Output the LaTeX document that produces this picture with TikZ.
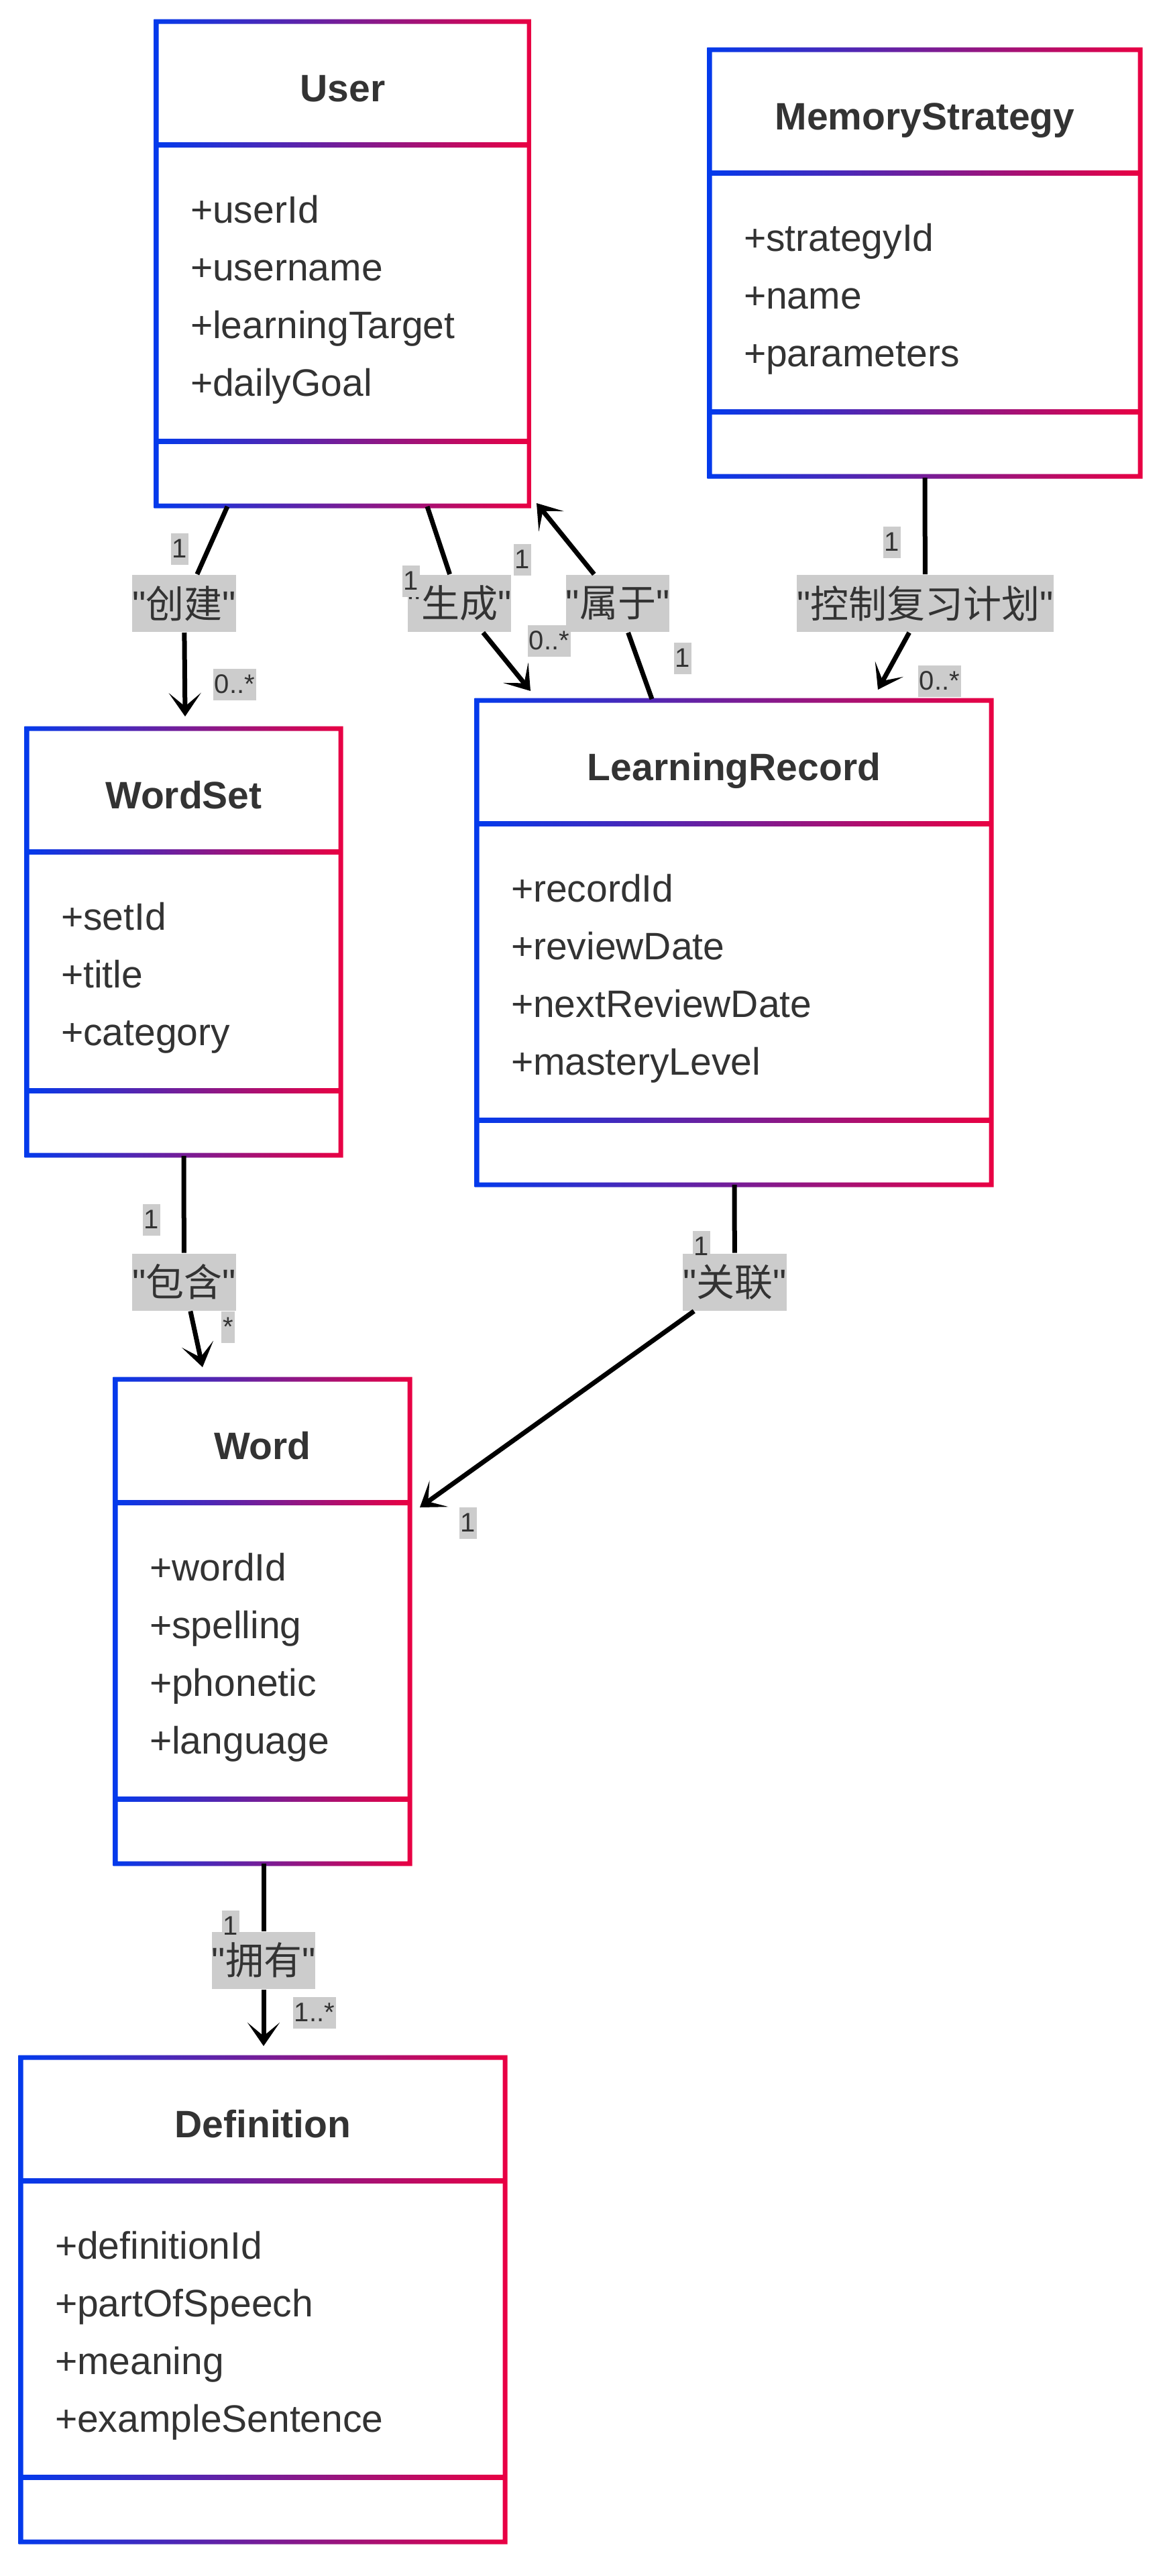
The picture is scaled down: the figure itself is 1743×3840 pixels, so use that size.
\documentclass[tikz,border=0pt]{standalone}
\usepackage{fontspec}
\setmainfont{Liberation Sans}
\newfontfamily\cjk{Noto Sans CJK SC}
\usetikzlibrary{arrows.meta}

\definecolor{azul}{RGB}{3,58,236}
\definecolor{rojo}{RGB}{233,0,67}
\definecolor{gris}{RGB}{204,204,204}
\definecolor{texto}{RGB}{51,51,51}

\newcommand{\rel}[1]{\textquotedbl{\cjk #1}\textquotedbl}

\tikzset{
  etiqueta/.style={fill=gris, text=texto, inner sep=0pt, minimum height=17pt,
    font=\fontsize{11.4}{13}\selectfont},
  mult/.style={fill=gris, text=texto, inner xsep=0.4pt, inner ysep=0pt,
    minimum height=9.4pt, font=\fontsize{8}{9}\selectfont},
  linea/.style={line width=1.4pt, black},
  flecha/.style={linea, -{Stealth[length=7pt,width=9.6pt,inset=4pt]}},
  titulo/.style={text=texto, inner sep=0pt, anchor=base, font=\bfseries\fontsize{11.4}{13}\selectfont},
  atributo/.style={text=texto, inner sep=0pt, anchor=base west, font=\fontsize{11.4}{13}\selectfont},
}

% clase: nombre, x, y, ancho, n, titulo, atributos
\newcommand{\clase}[7]{%
  \pgfmathsetmacro{\xder}{#2+#4}%
  \pgfmathsetmacro{\ycab}{#3+184}%
  \pgfmathsetmacro{\yatr}{#3+368+(#5-1)*86}%
  \pgfmathsetmacro{\ypie}{\yatr+96}%
  \shade[left color=azul, right color=rojo, even odd rule]
    (#2-3.5,#3-3.5) rectangle (\xder+3.5,\ypie+3.5)
    (#2+3.5,#3+3.5) rectangle (\xder-3.5,\ypie-3.5);
  \shade[left color=azul, right color=rojo] (#2,\ycab-3.5) rectangle (\xder,\ycab+3.5);
  \shade[left color=azul, right color=rojo] (#2,\yatr-3.5) rectangle (\xder,\yatr+3.5);
  \node[titulo] (#1) at ({(#2+\xder)/2},{#3+119}) {#6};
  \foreach \atr [count=\i] in {#7}
    \node[atributo] (#1-\i) at ({#2+50},{\ycab+116+(\i-1)*86}) {\atr};
}

\begin{document}
\begin{tikzpicture}[x=0.2pt,y=-0.2pt]
  \fill[white] (0,0) rectangle (1743,3840);
  \useasboundingbox (0,0) rectangle (1743,3840);
  % clases
  \clase{user}{233}{32}{556}{4}{User}{+userId,+username,+learningTarget,+dailyGoal}
  \clase{memoria}{1058}{74}{642}{3}{MemoryStrategy}{+strategyId,+name,+parameters}
  \clase{wordset}{40}{1086}{468}{3}{WordSet}{+setId,+title,+category}
  \clase{registro}{711}{1044}{767}{4}{LearningRecord}{+recordId,+reviewDate,+nextReviewDate,+masteryLevel}
  \clase{word}{172}{2056}{439}{4}{Word}{+wordId,+spelling,+phonetic,+language}
  \clase{definicion}{31}{3067}{722}{4}{Definition}{+definitionId,+partOfSpeech,+meaning,+exampleSentence}

  % etiquetas de las relaciones
  \node[etiqueta] (crea) at (274.5,899.5) {\rel{创建}};
  \node[etiqueta] (genera) at (685,899.5) {\rel{生成}};
  \node[etiqueta] (pertenece) at (921,899.5) {\rel{属于}};
  \node[etiqueta] (controla) at (1379.5,899.5) {\rel{控制复习计划}};
  \node[etiqueta] (contiene) at (274.5,1911) {\rel{包含}};
  \node[etiqueta] (asocia) at (1095.5,1911) {\rel{关联}};
  \node[etiqueta] (posee) at (393,2922) {\rel{拥有}};

  % extremos de las flechas
  \coordinate (u-crea) at (339,755);
  \coordinate (ws-crea) at (276,1068);
  \coordinate (u-gen) at (637,755);
  \coordinate (lr-gen) at (791,1030);
  \coordinate (lr-per) at (972,1042);
  \coordinate (u-per) at (800,750);
  \coordinate (ms-ctl) at (1379,712);
  \coordinate (lr-ctl) at (1309,1028);
  \coordinate (ws-con) at (274,1723);
  \coordinate (w-con) at (302,2038);
  \coordinate (lr-aso) at (1095,1766);
  \coordinate (w-aso) at (626,2247);
  \coordinate (w-pos) at (393,2778);
  \coordinate (d-pos) at (393,3050);

  \draw[linea] (u-crea) -- (crea);
  \draw[flecha] (crea) -- (ws-crea);
  \draw[linea] (u-gen) -- (genera);
  \draw[flecha] (genera) -- (lr-gen);
  \draw[linea] (lr-per) -- (pertenece);
  \draw[flecha] (pertenece) -- (u-per);
  \draw[linea] (ms-ctl) -- (controla);
  \draw[flecha] (controla) -- (lr-ctl);
  \draw[linea] (ws-con) -- (contiene);
  \draw[flecha] (contiene) -- (w-con);
  \draw[linea] (lr-aso) -- (asocia);
  \draw[flecha] (asocia) -- (w-aso);
  \draw[linea] (w-pos) -- (posee);
  \draw[flecha] (posee) -- (d-pos);

  % multiplicidades
  \node[mult] (m-crea-a) at (268,818) {1};
  \node[mult] (m-crea-b) at (350,1020) {0..*};
  \node[mult] (m-gen-a) at (613,866) {1};
  \node[mult] (m-gen-b) at (819,955) {0..*};
  \node[mult] (m-per-a) at (1018,981) {1};
  \node[mult] (m-per-b) at (779,834) {1};
  \node[mult] (m-ctl-a) at (1330,808) {1};
  \node[mult] (m-ctl-b) at (1401,1015) {0..*};
  \node[mult] (m-con-a) at (226,1818) {1};
  \node[mult] (m-con-b) at (340,1978) {*};
  \node[mult] (m-aso-a) at (1046,1858) {1};
  \node[mult] (m-aso-b) at (698,2270) {1};
  \node[mult] (m-pos-a) at (344,2871) {1};
  \node[mult] (m-pos-b) at (469,3000) {1..*};
\end{tikzpicture}
\end{document}
